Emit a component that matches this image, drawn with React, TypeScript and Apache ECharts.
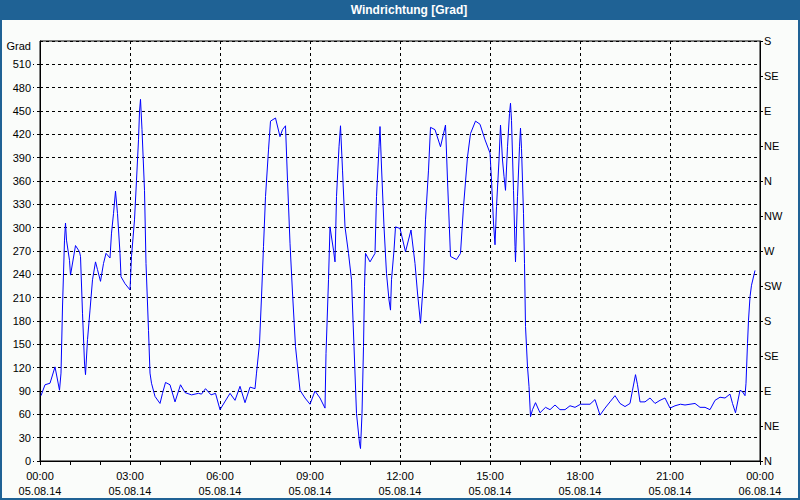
import React, { useEffect, useRef } from "react";
import * as echarts from "echarts";

// time in minutes after 05.08.14 00:00
const minutes = [
  2, 10, 20, 30, 39, 42, 45, 49, 51, 53, 59, 61, 71, 79, 81, 85, 89, 91, 95, 100,
  105, 111, 115, 121, 127, 132, 140, 143, 147, 151, 155, 160, 162, 170, 180, 183, 189, 193, 197, 199,
  201, 204, 209, 212, 217, 220, 223, 230, 240, 245, 251, 260, 270, 281, 290, 303, 317, 323, 331, 342,
  351, 360, 380, 390, 400, 410, 420, 430, 433, 439, 443, 447, 451, 457, 461, 471, 480, 485, 491, 495,
  500, 505, 511, 520, 530, 540, 550, 560, 570, 572, 577, 580, 583, 587, 590, 593, 598, 601, 605, 610,
  617, 623, 628, 633, 639, 641, 644, 647, 649, 651, 660, 670, 673, 678, 680, 683, 688, 693, 698, 701,
  703, 708, 711, 720, 731, 742, 750, 755, 761, 767, 771, 777, 781, 790, 801, 811, 815, 821, 833, 841,
  847, 855, 861, 871, 880, 890, 900, 903, 907, 910, 913, 918, 921, 925, 928, 931, 935, 939, 941, 943,
  947, 950, 951, 955, 959, 961, 963, 967, 969, 971, 975, 978, 981, 985, 991, 1000, 1011, 1020, 1030, 1040,
  1050, 1060, 1070, 1081, 1100, 1110, 1120, 1130, 1140, 1150, 1160, 1170, 1180, 1185, 1191, 1195, 1200, 1210, 1220, 1230,
  1240, 1250, 1260, 1270, 1281, 1290, 1310, 1320, 1330, 1340, 1350, 1360, 1370, 1380, 1385, 1391, 1400, 1405, 1410, 1412,
  1415, 1417, 1420, 1423, 1430,
];

const windDirection = [
  84, 98, 100, 121, 91, 113, 198, 284, 306, 284, 258, 239, 277, 269, 263, 190, 126, 111, 156, 194,
  233, 256, 246, 231, 254, 267, 261, 293, 318, 347, 318, 267, 237, 228, 220, 263, 310, 361, 413, 449,
  465, 426, 348, 254, 168, 113, 100, 83, 74, 87, 101, 98, 76, 98, 88, 85, 87, 86, 93, 85,
  87, 66, 87, 78, 96, 75, 95, 93, 113, 151, 211, 276, 340, 400, 437, 441, 417, 426, 431, 361,
  280, 216, 147, 91, 81, 73, 90, 81, 68, 138, 233, 301, 288, 271, 256, 340, 404, 431, 374, 301,
  267, 233, 147, 61, 23, 16, 61, 147, 224, 267, 256, 267, 340, 404, 430, 378, 301, 241, 207, 194,
  233, 271, 301, 299, 269, 297, 254, 216, 177, 233, 310, 374, 429, 426, 404, 432, 361, 263, 259, 267,
  327, 391, 421, 437, 433, 413, 396, 361, 306, 278, 327, 387, 432, 387, 366, 348, 404, 447, 460, 438,
  348, 276, 256, 340, 404, 428, 402, 318, 254, 173, 121, 96, 57, 66, 75, 62, 69, 66, 72, 66,
  66, 71, 69, 73, 73, 79, 59, 68, 76, 84, 74, 70, 74, 91, 111, 98, 76, 76, 81, 74,
  78, 81, 68, 71, 73, 72, 74, 69, 69, 66, 78, 82, 81, 86, 74, 62, 91, 89, 84, 100,
  151, 181, 211, 226, 245,
];

const compassLabels = ["N", "NE", "E", "SE", "S", "SW", "W", "NW"];
const dateLabels = ["05.08.14", "06.08.14"];
const titleText = "Windrichtung [Grad]";
const unitText = "Grad";

const FONT = "'Liberation Sans', Arial, sans-serif";

export default function App() {
  const ref = useRef<HTMLDivElement>(null);

  useEffect(() => {
    if (!ref.current) return;
    const chart = echarts.init(ref.current, undefined, { renderer: "svg" });
    const data = minutes.map((m, i) => [m, windDirection[i]]);
    const dash = [3, 3];

    chart.setOption({
      animation: false,
      backgroundColor: "#FAFCFA",
      textStyle: { fontFamily: FONT },
      grid: {
        left: 40,
        right: 40,
        top: 41,
        bottom: 39,
        show: true,
        borderColor: "#000",
        borderWidth: 1,
        backgroundColor: "transparent",
        outerBoundsMode: "none",
      },
      graphic: [
        {
          type: "rect",
          shape: { x: 0, y: 0, width: 800, height: 20 },
          style: { fill: "#1F6295" },
          silent: true,
        },
        {
          type: "rect",
          shape: { x: 1, y: 1, width: 798, height: 498 },
          style: { fill: "none", stroke: "#1F6295", lineWidth: 2 },
          silent: true,
        },
        {
          type: "text",
          x: 409,
          y: 10,
          style: {
            text: titleText,
            fill: "#FFFFFF",
            font: `bold 12px ${FONT}`,
            align: "center",
            verticalAlign: "middle",
          },
          silent: true,
        },
        {
          type: "text",
          x: 31,
          y: 46,
          style: {
            text: unitText,
            fill: "#000",
            font: `11px ${FONT}`,
            align: "right",
            verticalAlign: "middle",
          },
          silent: true,
        },
      ],
      xAxis: {
        type: "value",
        min: 0,
        max: 1440,
        interval: 180,
        axisLine: { show: true, onZero: false, lineStyle: { color: "#000", width: 1 } },
        axisTick: { show: true, length: 4, lineStyle: { color: "#000" } },
        minorTick: { show: true, splitNumber: 3, length: 4, lineStyle: { color: "#000" } },
        splitLine: { show: true, lineStyle: { color: "#000", type: dash, width: 1 } },
        axisLabel: {
          show: true,
          margin: 7,
          color: "#000",
          fontSize: 11,
          fontFamily: FONT,
          lineHeight: 15,
          showMinLabel: true,
          showMaxLabel: true,
          formatter: (v: number) => {
            const h = Math.round(v / 60) % 24;
            const hh = (h < 10 ? "0" : "") + h + ":00";
            return hh + "\n" + (v >= 1440 ? dateLabels[1] : dateLabels[0]);
          },
        },
      },
      yAxis: [
        {
          type: "value",
          position: "left",
          min: 0,
          max: 540,
          interval: 30,
          axisLine: { show: true, lineStyle: { color: "#000", width: 1 } },
          axisTick: { show: true, length: 7, lineStyle: { color: "#000", type: dash } },
          splitLine: { show: true, lineStyle: { color: "#000", type: dash, width: 1 } },
          axisLabel: {
            margin: 9,
            color: "#000",
            fontSize: 11,
            fontFamily: FONT,
            showMaxLabel: false,
          },
        },
        {
          type: "value",
          position: "right",
          min: 0,
          max: 540,
          interval: 45,
          axisLine: { show: true, lineStyle: { color: "#000", width: 1 } },
          axisTick: { show: true, length: 3, lineStyle: { color: "#000" } },
          splitLine: { show: false },
          axisLabel: {
            margin: 4,
            color: "#000",
            fontSize: 11,
            fontFamily: FONT,
            showMaxLabel: true,
            showMinLabel: true,
            formatter: (v: number) => compassLabels[Math.round(v / 45) % 8],
          },
        },
      ],
      series: [
        {
          type: "line",
          yAxisIndex: 0,
          data,
          showSymbol: false,
          symbol: "none",
          lineStyle: { color: "#0000FF", width: 1 },
          itemStyle: { color: "#0000FF" },
          silent: true,
        },
      ],
    });

    return () => chart.dispose();
  }, []);

  return (
    <div
      ref={ref}
      style={{ position: "absolute", left: 0, top: 0, width: 800, height: 500 }}
    />
  );
}
